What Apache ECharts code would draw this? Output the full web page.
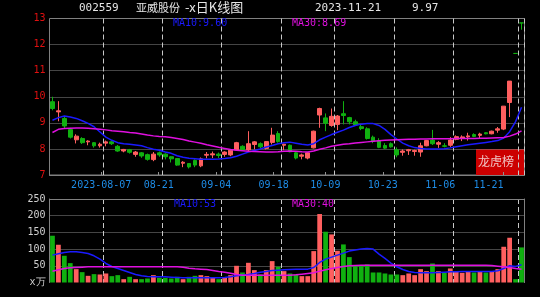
<!DOCTYPE html>
<html><head><meta charset="utf-8">
<script src="https://cdn.jsdelivr.net/npm/echarts@6/dist/echarts.min.js"></script>
<style>html,body{margin:0;padding:0;background:#000;}#c{width:540px;height:297px;}</style>
</head><body><div id="c"></div>
<script>
const dates = [
'2023-07-25','2023-07-26','2023-07-27','2023-07-28','2023-07-31',
'2023-08-01','2023-08-02','2023-08-03','2023-08-04','2023-08-07',
'2023-08-08','2023-08-09','2023-08-10','2023-08-11','2023-08-14',
'2023-08-15','2023-08-16','2023-08-17','2023-08-18','2023-08-21',
'2023-08-22','2023-08-23','2023-08-24','2023-08-25','2023-08-28',
'2023-08-29','2023-08-30','2023-08-31','2023-09-01','2023-09-04',
'2023-09-05','2023-09-06','2023-09-07','2023-09-08','2023-09-11',
'2023-09-12','2023-09-13','2023-09-14','2023-09-15','2023-09-18',
'2023-09-19','2023-09-20','2023-09-21','2023-09-22','2023-09-25',
'2023-09-26','2023-09-27','2023-09-28','2023-10-09','2023-10-10',
'2023-10-11','2023-10-12','2023-10-13','2023-10-16','2023-10-17',
'2023-10-18','2023-10-19','2023-10-20','2023-10-23','2023-10-24',
'2023-10-25','2023-10-26','2023-10-27','2023-10-30','2023-10-31',
'2023-11-01','2023-11-02','2023-11-03','2023-11-06','2023-11-07',
'2023-11-08','2023-11-09','2023-11-10','2023-11-13','2023-11-14',
'2023-11-15','2023-11-16','2023-11-17','2023-11-20','2023-11-21'];

// [open, close, low, high]
const ohlc = [
[9.81,9.55,9.48,10.00],[9.42,9.46,9.06,9.83],[9.17,8.88,8.78,9.26],[8.74,8.45,8.40,8.81],[8.35,8.49,8.21,8.56],
[8.40,8.24,8.19,8.45],[8.27,8.30,8.14,8.33],[8.24,8.12,8.05,8.26],[8.12,8.18,8.05,8.24],[8.22,8.27,8.10,8.32],
[8.27,8.20,8.15,8.30],[8.10,7.92,7.89,8.15],[7.92,7.98,7.87,8.00],[7.97,7.87,7.82,8.00],[7.79,7.88,7.70,7.92],
[7.85,7.73,7.66,7.88],[7.78,7.60,7.55,7.82],[7.59,7.80,7.53,7.88],[7.85,7.77,7.70,7.90],[7.80,7.70,7.60,7.83],
[7.70,7.62,7.48,7.72],[7.63,7.38,7.35,7.65],[7.45,7.49,7.30,7.53],[7.44,7.31,7.25,7.45],[7.56,7.38,7.30,7.60],
[7.35,7.62,7.30,7.67],[7.76,7.79,7.64,7.88],[7.77,7.81,7.65,7.90],[7.80,7.75,7.65,7.86],[7.79,7.88,7.70,7.91],
[7.77,7.95,7.72,7.99],[7.96,8.24,7.92,8.27],[8.10,7.96,7.92,8.14],[7.96,8.20,7.89,8.68],[8.17,8.27,7.98,8.30],
[8.20,8.08,8.03,8.25],[8.02,8.28,7.98,8.30],[8.25,8.53,8.17,8.81],[8.59,8.28,8.24,8.68],[8.14,8.18,7.95,8.20],
[8.14,7.89,7.87,8.17],[7.85,7.65,7.60,7.88],[7.72,7.77,7.60,7.82],[7.65,7.85,7.60,7.87],[8.04,8.68,8.02,8.70],
[9.30,9.55,8.81,9.58],[9.19,8.98,8.68,9.36],[8.90,9.25,8.85,9.55],[8.94,9.26,8.72,9.30],[9.35,9.28,8.94,9.83],
[9.20,9.04,8.94,9.23],[9.04,8.92,8.88,9.12],[8.85,8.78,8.72,8.93],[8.77,8.40,8.36,8.83],[8.45,8.30,8.22,8.51],
[8.32,8.06,8.03,8.41],[8.13,8.03,8.00,8.22],[8.20,8.08,8.05,8.25],[7.97,7.77,7.68,8.06],[7.87,7.92,7.74,7.98],
[7.93,7.97,7.77,8.00],[7.90,7.94,7.74,7.97],[7.88,8.12,7.70,8.24],[8.12,8.32,8.10,8.34],[8.34,8.20,8.15,8.73],
[8.18,8.24,8.04,8.30],[8.12,8.10,8.06,8.22],[8.14,8.34,8.08,8.45],[8.37,8.47,8.33,8.52],[8.42,8.46,8.30,8.52],
[8.46,8.50,8.32,8.62],[8.55,8.48,8.45,8.60],[8.52,8.57,8.40,8.62],[8.62,8.58,8.56,8.64],[8.58,8.68,8.56,8.70],
[8.72,8.77,8.62,8.84],[8.76,9.64,8.72,9.64],[9.78,10.60,9.22,10.60],[11.66,11.66,11.66,11.66],[12.83,12.83,12.57,12.83]];

const ma10 = [
9.10,9.20,9.26,9.22,9.17,9.08,8.98,8.85,8.65,8.45,
8.33,8.24,8.20,8.18,8.15,8.12,8.05,7.99,7.95,7.88,
7.83,7.74,7.68,7.64,7.62,7.60,7.60,7.60,7.61,7.63,
7.66,7.72,7.80,7.88,7.94,8.00,8.07,8.13,8.20,8.24,
8.26,8.22,8.18,8.15,8.20,8.35,8.45,8.55,8.64,8.72,
8.82,8.90,8.95,8.97,8.97,8.90,8.75,8.55,8.38,8.22,
8.12,8.05,8.02,8.00,8.00,8.00,8.01,8.04,8.08,8.12,
8.16,8.19,8.22,8.25,8.28,8.32,8.42,8.66,9.05,9.60];

const ma30 = [
8.63,8.75,8.78,8.79,8.80,8.80,8.79,8.77,8.75,8.73,
8.70,8.68,8.66,8.63,8.61,8.57,8.53,8.50,8.48,8.47,
8.44,8.40,8.36,8.30,8.26,8.22,8.16,8.11,8.06,8.02,
7.98,7.95,7.93,7.91,7.90,7.89,7.88,7.88,7.89,7.91,
7.92,7.91,7.89,7.88,7.92,7.99,8.04,8.10,8.14,8.18,
8.20,8.23,8.25,8.27,8.29,8.31,8.33,8.34,8.35,8.36,
8.37,8.37,8.38,8.38,8.39,8.39,8.39,8.39,8.40,8.40,
8.40,8.40,8.41,8.41,8.42,8.43,8.44,8.49,8.57,8.69];

const volume = [
140,113,80,58,40,31,20,25,24,27,
19,22,10,17,10,10,12,22,14,14,
12,17,10,17,20,22,19,15,10,15,
22,50,30,59,37,24,37,64,47,34,
27,24,19,19,94,205,152,144,95,114,
76,52,52,54,30,30,27,24,24,22,
27,22,40,34,57,34,29,42,34,29,
32,30,32,30,32,40,107,134,10,105];

const volMa10 = [
82,86,90,92,92,90,87,80,70,57,
48,42,36,30,24,20,18,17,17,17,
16,15,14,14,14,14,14,14,14,15,
17,20,22,24,27,31,33,36,37,38,
39,40,40,40,45,60,70,76,82,88,
94,97,100,102,100,85,72,58,47,39,
33,30,29,29,29,30,31,32,32,33,
33,33,33,33,33,35,42,50,48,53];

const volMa30 = [
34,38,42,44,45,46,47,47,47,47,
47,47,47,47,47,47,47,47,47,47,
47,47,46,43,41,40,39,36,33,31,
28,24,22,22,22,22,22,22,22,22,
22,23,25,27,29,34,38,42,45,48,
50,51,52,52,52,52,52,52,52,52,
52,52,52,52,52,52,52,52,52,52,
52,52,52,52,51,49,47,45,42,40];

const tickDates = ['2023-08-07','2023-08-21','2023-09-04','2023-09-18','2023-10-09','2023-10-23','2023-11-06','2023-11-21'];
const tickLabels = ['2023-08-07','08-21','09-04','09-18','10-09','10-23','11-06','11-21'];
const priceTicks = [7, 13, 1];
const volTicks = [0, 250, 50];
const volUnit = 'x万';

const UP = '#ff5f5f', DOWN = '#10b010', BLUE = '#1a1aff', MAG = '#e010e0';
const MONO = 'DejaVu Sans Mono';

const isMark = (i, v) => tickDates.indexOf(v) >= 0;

const chart = echarts.init(document.getElementById('c'), null, {renderer: 'canvas'});
const catAxisBase = (g) => ({
  type: 'category', gridIndex: g, data: dates, boundaryGap: true,
  axisLine: {show: false}, axisTick: {show: false}, axisLabel: {show: false},
  splitLine: {show: true, interval: isMark, lineStyle: {color: '#c8c8c8', type: [5, 3], width: 1}}
});

chart.setOption({
  backgroundColor: '#000',
  animation: false,
  grid: [
    {left: 49.5, right: 15.5, top: 18.5, height: 156.5, show: true, borderColor: '#808080', borderWidth: 1},
    {left: 49.5, right: 15.5, top: 199, height: 83.5, show: false},
    {left: 49.5, width: 454, top: 18.5, height: 156.5, show: false}
  ],
  xAxis: [
    Object.assign(catAxisBase(0), {axisLine: {show: true, lineStyle: {color: '#808080'}}}),
    Object.assign(catAxisBase(1), {position: 'top', axisLine: {show: true, onZero: false, lineStyle: {color: '#808080'}}}),
    {type: 'category', gridIndex: 2, data: dates, boundaryGap: false, position: 'bottom',
     axisLine: {show: false},
     axisTick: {show: true, inside: true, length: 3, interval: isMark, lineStyle: {color: '#909090'}},
     axisLabel: {show: true, interval: isMark, color: '#1e8ce6', fontFamily: MONO, fontSize: 10, margin: 5,
       alignMaxLabel: 'right',
       formatter: (v) => tickLabels[tickDates.indexOf(v)]},
     splitLine: {show: false}}
  ],
  yAxis: [
    {type: 'value', gridIndex: 0, min: priceTicks[0], max: priceTicks[1], interval: priceTicks[2],
     axisLine: {show: false}, axisTick: {show: false},
     axisLabel: {color: '#e01010', fontFamily: MONO, fontSize: 10, margin: 4},
     splitLine: {show: true, showMinLine: false, showMaxLine: false, lineStyle: {color: '#8a8a8a', type: [1, 1]}}},
    {type: 'value', gridIndex: 1, min: volTicks[0], max: volTicks[1], interval: volTicks[2],
     axisLine: {show: true, lineStyle: {color: '#808080'}}, axisTick: {show: false},
     axisLabel: {color: '#d0d0d0', fontFamily: MONO, fontSize: 10, margin: 4,
       formatter: (v) => v === 0 ? volUnit : String(v)},
     splitLine: {show: true, showMinLine: false, showMaxLine: false, lineStyle: {color: '#8a8a8a', type: [1, 1]}}},
    {type: 'value', gridIndex: 2, min: 0, max: 1, show: false},
    {type: 'value', gridIndex: 1, position: 'right', min: volTicks[0], max: volTicks[1],
     axisLine: {show: true, lineStyle: {color: '#808080'}}, axisTick: {show: false}, axisLabel: {show: false}, splitLine: {show: false}}
  ],
  series: [
    {type: 'candlestick', xAxisIndex: 0, yAxisIndex: 0, data: ohlc, barWidth: '72%',
     itemStyle: {color: UP, color0: DOWN, borderColor: UP, borderColor0: DOWN, borderColorDoji: DOWN, borderWidth: 1}},
    {type: 'line', xAxisIndex: 0, yAxisIndex: 0, data: ma10, symbol: 'none', lineStyle: {color: BLUE, width: 1.5}},
    {type: 'line', xAxisIndex: 0, yAxisIndex: 0, data: ma30, symbol: 'none', lineStyle: {color: MAG, width: 1.5}},
    {type: 'bar', xAxisIndex: 1, yAxisIndex: 1, data: volume, barWidth: '80%',
     itemStyle: {color: (p) => ohlc[p.dataIndex][1] > ohlc[p.dataIndex][0] ? UP : DOWN}},
    {type: 'line', xAxisIndex: 1, yAxisIndex: 1, data: volMa10, symbol: 'none', lineStyle: {color: BLUE, width: 1.5}},
    {type: 'line', xAxisIndex: 1, yAxisIndex: 1, data: volMa30, symbol: 'none', lineStyle: {color: MAG, width: 1.5}}
  ],
  graphic: [
    {type: 'text', left: 79, top: 3, style: {text: '002559', fill: '#e6e6e6', font: '11px "DejaVu Sans Mono"'}},
    {type: 'text', left: 136, top: 2, style: {text: '亚威股份', fill: '#e6e6e6', font: '11px "Noto Sans CJK SC"'}},
    {type: 'text', left: 185, top: 1, style: {text: '-x日K线图', fill: '#e6e6e6', font: '13px "Noto Sans CJK SC"'}},
    {type: 'text', left: 315, top: 3, style: {text: '2023-11-21', fill: '#e6e6e6', font: '11px "DejaVu Sans Mono"'}},
    {type: 'text', left: 412, top: 3, style: {text: '9.97', fill: '#e6e6e6', font: '11px "DejaVu Sans Mono"'}},
    {type: 'text', left: 173, top: 18, z: 50, style: {text: 'MA10:9.60', fill: BLUE, font: '10px "DejaVu Sans Mono"'}},
    {type: 'text', left: 292, top: 18, z: 50, style: {text: 'MA30:8.69', fill: MAG, font: '10px "DejaVu Sans Mono"'}},
    {type: 'text', left: 174, top: 199, z: 50, style: {text: 'MA10:53', fill: BLUE, font: '10px "DejaVu Sans Mono"'}},
    {type: 'text', left: 292, top: 199, z: 50, style: {text: 'MA30:40', fill: MAG, font: '10px "DejaVu Sans Mono"'}},
    {type: 'group', left: 476, top: 149, z: 100, children: [
      {type: 'rect', shape: {x: 0, y: 0, width: 48, height: 26}, style: {fill: '#cc0000'}},
      {type: 'text', x: 2, y: 6, style: {text: '龙虎榜', fill: '#f0c4c4', font: '12px "Noto Sans CJK SC"'}}
    ]}
  ]
});
</script></body></html>
